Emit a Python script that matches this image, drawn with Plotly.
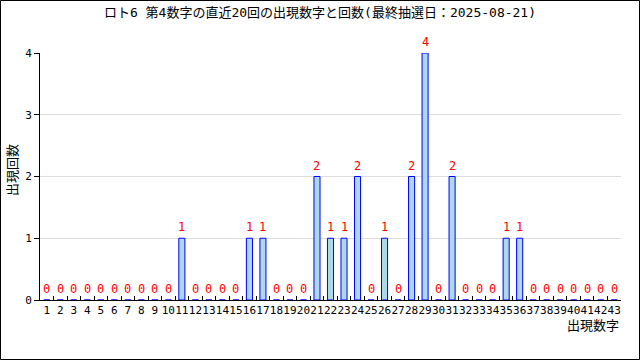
import plotly.graph_objects as go

numbers = [str(i) for i in range(1, 44)]
counts = [0, 0, 0, 0, 0, 0, 0, 0, 0, 0,
          1, 0, 0, 0, 0, 1, 1, 0, 0, 0,
          2, 1, 1, 2, 0, 1, 0, 2, 4, 0,
          2, 0, 0, 0, 1, 1, 0, 0, 0, 0,
          0, 0, 0]
title = "ロト6 第4数字の直近20回の出現数字と回数(最終抽選日：2025-08-21)"
y_title = "出現回数"
x_title = "出現数字"

FONT = "DejaVu Sans Mono, Noto Sans CJK JP"

fig = go.Figure()
fig.add_trace(go.Bar(
    x=numbers, y=counts, width=0.45,
    marker=dict(color="#ADD8E6", line=dict(color="#0000FF", width=1)),
    hoverinfo="skip",
))

W, H = 640, 360
L, R, T, B = 40, 19, 53, 60
pw, ph = W - L - R, H - T - B

annotations = [dict(text=str(c), x=i, y=c, xref="x", yref="y", yanchor="bottom",
                    yshift=2, showarrow=False,
                    font=dict(color="#FF0000", size=12, family=FONT))
               for i, c in enumerate(counts)]
annotations.append(dict(text=x_title, xref="paper", yref="paper", x=1, xanchor="right",
                        y=-25 / ph, yanchor="middle", showarrow=False,
                        font=dict(size=13, family=FONT)))
annotations.append(dict(text=y_title, xref="paper", yref="paper", x=-28 / pw,
                        xanchor="center", y=(300 - 170) / ph, yanchor="middle",
                        textangle=-90, showarrow=False,
                        font=dict(size=13, family=FONT)))

fig.update_layout(
    width=W, height=H, margin=dict(l=L, r=R, t=T, b=B, autoexpand=False),
    paper_bgcolor="white", plot_bgcolor="white",
    showlegend=False,
    font=dict(family=FONT, size=11, color="#000000"),
    title=dict(text=title, x=0.5, xanchor="center", y=1 - 12 / H, yanchor="middle",
               font=dict(size=13, family=FONT)),
    xaxis=dict(type="category", range=[-0.5, 42.5], showline=True, linecolor="black",
               linewidth=1, ticks="inside", ticklen=4, tickcolor="black",
               tickson="boundaries", showgrid=False, tickangle=0, automargin=False,
               tickfont=dict(size=11)),
    yaxis=dict(range=[0, 4], dtick=1, showline=True, linecolor="black", linewidth=1,
               ticks="outside", ticklen=5, tickcolor="black", gridcolor="#DDDDDD",
               zeroline=False, tickfont=dict(size=11), automargin=False),
    shapes=[dict(type="rect", xref="paper", yref="paper",
                 x0=-L / pw + 0.5 / pw, x1=1 + (R - 0.5) / pw,
                 y0=-B / ph + 0.5 / ph, y1=1 + (T - 0.5) / ph,
                 line=dict(color="black", width=1))],
    annotations=annotations,
)

fig.write_html("out.html")
